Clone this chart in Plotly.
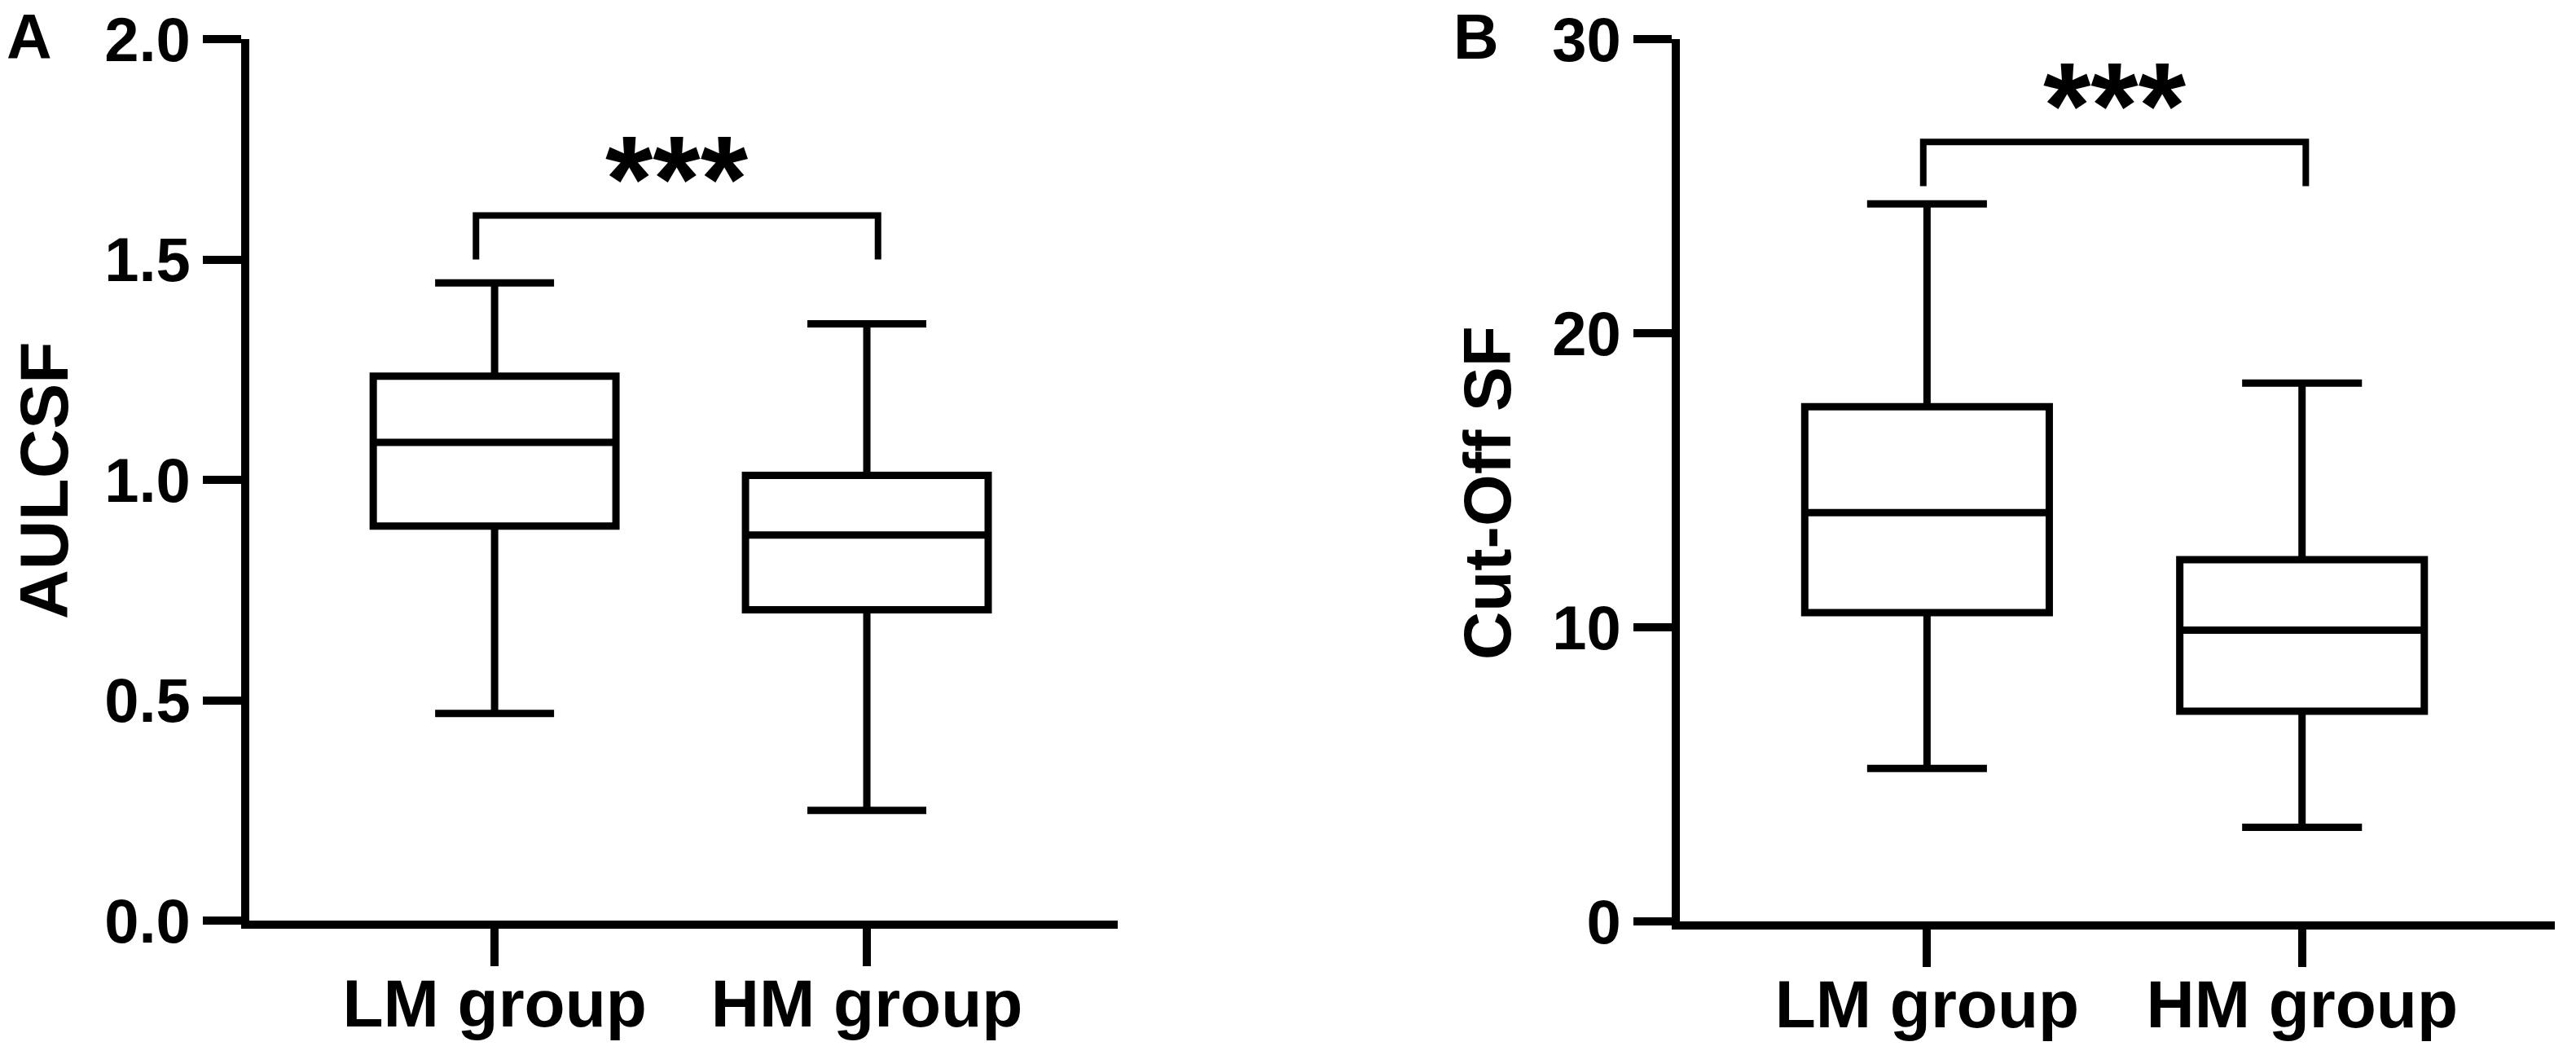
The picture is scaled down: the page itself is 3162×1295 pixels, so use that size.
import plotly.graph_objects as go
from plotly.subplots import make_subplots

# dados
grupos = ["LM group", "HM group"]
pos = [0, 1]

aulcsf_min = [0.47, 0.25]
aulcsf_q1 = [0.895, 0.705]
aulcsf_med = [1.085, 0.875]
aulcsf_q3 = [1.235, 1.01]
aulcsf_max = [1.447, 1.354]

cutoff_min = [5.2, 3.2]
cutoff_q1 = [10.5, 7.15]
cutoff_med = [13.9, 9.9]
cutoff_q3 = [17.5, 12.3]
cutoff_max = [24.4, 18.3]

# colchete de significância: (x esq, x dir, topo, pernas)
sig_a = (-0.05, 1.03, 1.6, 1.5)
sig_b = (-0.01, 1.01, 26.5, 25.0)

fonte = "Liberation Sans, Arial, sans-serif"
preto = "black"
lw = 9

W, H = 3162, 1295


def fx(px):
    return px / W


def fy(py):
    return 1 - py / H


fig = make_subplots(rows=1, cols=2)

fig.add_trace(go.Box(
    x=pos, q1=aulcsf_q1, median=aulcsf_med, q3=aulcsf_q3,
    lowerfence=aulcsf_min, upperfence=aulcsf_max,
    width=0.652, whiskerwidth=0.49, boxpoints=False,
    line=dict(color=preto, width=lw), fillcolor="white",
    hoverinfo="skip", showlegend=False), row=1, col=1)

fig.add_trace(go.Box(
    x=pos, q1=cutoff_q1, median=cutoff_med, q3=cutoff_q3,
    lowerfence=cutoff_min, upperfence=cutoff_max,
    width=0.652, whiskerwidth=0.49, boxpoints=False,
    line=dict(color=preto, width=lw), fillcolor="white",
    hoverinfo="skip", showlegend=False), row=1, col=2)

eixo_x = dict(tickvals=pos, ticktext=grupos, range=[-0.659, 1.674],
              showline=True, linewidth=10, linecolor=preto,
              ticks="outside", ticklen=46, tickwidth=10, tickcolor=preto,
              showgrid=False, zeroline=False, automargin=False,
              ticklabelstandoff=-24, ticklabeloverflow="allow",
              tickfont=dict(family=fonte, size=82, color=preto, weight="bold"))
eixo_y = dict(showline=True, linewidth=10, linecolor=preto,
              ticks="outside", ticklen=47, tickwidth=10, tickcolor=preto,
              showgrid=False, zeroline=False, automargin=False,
              ticklabeloverflow="allow",
              tickfont=dict(family=fonte, size=76, color=preto, weight="bold"))

fig.update_xaxes(**eixo_x)
fig.update_yaxes(**eixo_y)
fig.update_layout(
    xaxis=dict(domain=[fx(306), fx(1372)]),
    xaxis2=dict(domain=[fx(2062), fx(3136)]),
    yaxis=dict(domain=[fy(1130), fy(48)], range=[0, 2],
               tickvals=[0, 0.5, 1, 1.5, 2], ticktext=["0.0", "0.5", "1.0", "1.5", "2.0"]),
    yaxis2=dict(domain=[fy(1131), fy(48)], range=[0, 30],
                tickvals=[0, 10, 20, 30]),
)

# colchetes
for (x0, x1, topo, perna), xr, yr in [(sig_a, "x", "y"), (sig_b, "x2", "y2")]:
    fig.add_shape(type="path", xref=xr, yref=yr,
                  path=f"M {x0},{perna} L {x0},{topo} L {x1},{topo} L {x1},{perna}",
                  line=dict(color=preto, width=8))
    fig.add_annotation(x=(x0 + x1) / 2, y=topo, xref=xr, yref=yr,
                       text="***", showarrow=False, yanchor="bottom", yshift=-42,
                       font=dict(family=fonte, size=150, color=preto, weight="bold"))

# títulos dos eixos e letras dos painéis
fig.add_annotation(x=fx(54), y=fy(590), xref="paper", yref="paper",
                   text="AULCSF", textangle=-90, showarrow=False,
                   xanchor="center", yanchor="middle",
                   font=dict(family=fonte, size=84, color=preto, weight="bold"))
fig.add_annotation(x=fx(1826), y=fy(605), xref="paper", yref="paper",
                   text="Cut-Off SF", textangle=-90, showarrow=False,
                   xanchor="center", yanchor="middle",
                   font=dict(family=fonte, size=82, color=preto, weight="bold"))
fig.add_annotation(x=fx(6), y=1, xref="paper", yref="paper",
                   text="A", showarrow=False, xanchor="left", yanchor="top",
                   font=dict(family=fonte, size=77, color=preto, weight="bold"))
fig.add_annotation(x=fx(1782), y=1, xref="paper", yref="paper",
                   text="B", showarrow=False, xanchor="left", yanchor="top",
                   font=dict(family=fonte, size=77, color=preto, weight="bold"))

fig.update_layout(width=W, height=H, margin=dict(l=0, r=0, t=0, b=0),
                  paper_bgcolor="white", plot_bgcolor="white")

# tira a margem padrão do body pra figura ocupar a janela toda
fig.write_html("out.html", config={"displayModeBar": False},
               post_script="document.body.style.margin='0px';")
